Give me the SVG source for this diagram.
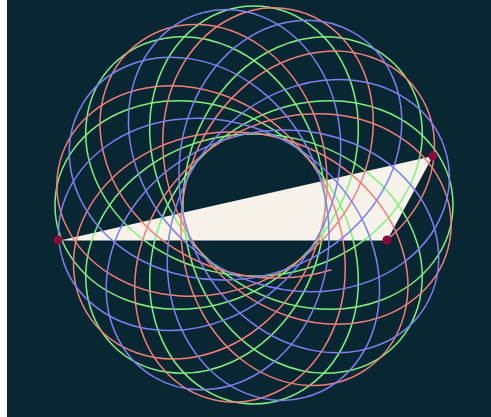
<svg xmlns="http://www.w3.org/2000/svg" xmlns:xlink="http://www.w3.org/1999/xlink" width="491" height="417" viewBox="0 0 491 417">
<defs>
<style>
.loop{fill:none;stroke-width:1.5}
.r{stroke:#f47f7a}
.g{stroke:#80f080}
.b{stroke:#7f80ee}
.dot{fill:#8a0a3c}
</style>
<path id="P" d="M453,205 C453,224.84 446.37,244.65 433.94,261.39 C421.51,278.13 403.32,291.75 381.64,300.03 C359.96,308.31 334.85,311.23 309.43,308 C284.01,304.78 258.33,295.41 235.53,280.78 C212.73,266.15 192.86,246.27 178.23,223.47 C163.6,200.67 154.23,174.99 151,149.57 C147.78,124.15 150.7,99.04 158.98,77.36 C167.26,55.68 180.87,37.49 197.61,25.06 C214.35,12.63 234.16,6 254,6"/>
<g id="S">
<use xlink:href="#P"/>
<use xlink:href="#P" transform="rotate(90 254 205)"/>
<use xlink:href="#P" transform="rotate(180 254 205)"/>
<use xlink:href="#P" transform="rotate(270 254 205)"/>
</g>
</defs>
<rect x="0" y="0" width="491" height="417" fill="#ffffff"/>
<rect x="7" y="0" width="484" height="417" fill="#082733"/>
<polygon id="tri" points="60,240.5 387,240.5 433,156" fill="#f7f3ea"/>
<g id="curves" class="loop">
<g id="green" class="g">
<use xlink:href="#S"/>
<use xlink:href="#S" transform="rotate(45 254 205)"/>
</g>
<g id="red" class="r">
<use xlink:href="#S" transform="rotate(10.7 254 205)"/>
<use xlink:href="#P" transform="rotate(55.7 254 205)"/>
<use xlink:href="#P" transform="rotate(145.7 254 205)"/>
<use xlink:href="#P" transform="rotate(235.7 254 205)"/>
<g transform="rotate(325.7 254 205)">
<path d="M453,205 C453,224.84 446.37,244.65 433.94,261.39 C421.51,278.13 403.32,291.75 381.64,300.03 C370.08,304.45 357.55,307.36 344.5,308.61"/>
<path d="M281.51,302.04 C265.55,297.23 249.97,290.05 235.53,280.78 C212.73,266.15 192.86,246.27 178.23,223.47 C163.6,200.67 154.23,174.99 151,149.57 C147.78,124.15 150.7,99.04 158.98,77.36 C167.26,55.68 180.87,37.49 197.61,25.06 C214.35,12.63 234.16,6 254,6"/>
</g>
</g>
<g id="blue" class="b">
<use xlink:href="#S" transform="rotate(30 254 205)"/>
<use xlink:href="#S" transform="rotate(75 254 205)"/>
</g>
</g>
<g id="dots">
<circle class="dot" cx="58" cy="240" r="4.5"/>
<circle class="dot" cx="387" cy="240" r="4.5"/>
<circle class="dot" cx="433" cy="156" r="4.5"/>
</g>
</svg>
